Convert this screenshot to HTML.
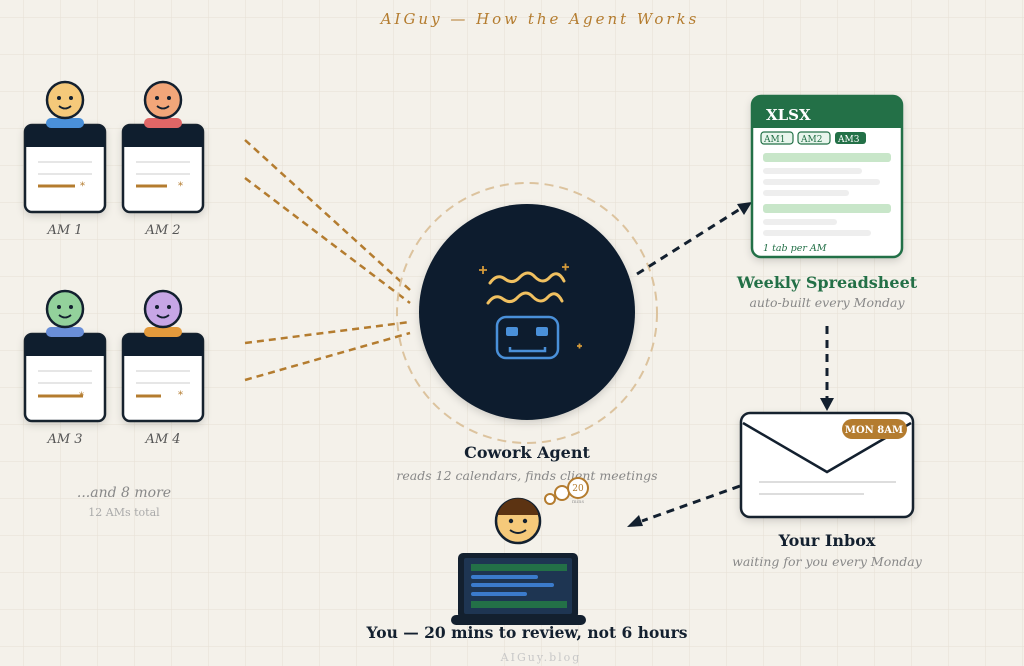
<!DOCTYPE html>
<html><head><meta charset="utf-8"><style>
html,body{margin:0;padding:0;background:#f4f1ea}
svg{display:block}
text{font-family:"DejaVu Serif","Liberation Serif",serif}
</style></head><body>
<svg width="1024" height="666" viewBox="0 0 1024 666" xmlns="http://www.w3.org/2000/svg">
<defs>
<pattern id="g" x="23" y="17" width="37" height="37" patternUnits="userSpaceOnUse">
<path d="M0 0H37M0 0V37" stroke="#e6e0d4" stroke-width="1" fill="none"/>
</pattern>
<filter id="sh" x="-20%" y="-20%" width="140%" height="140%"><feDropShadow dx="0" dy="3" stdDeviation="4" flood-color="#000" flood-opacity="0.15"/></filter>
</defs>
<rect width="1024" height="666" fill="#f4f1ea"/>
<rect width="1024" height="666" fill="url(#g)"/>

<text x="540" y="24" text-anchor="middle" font-size="15" font-style="italic" fill="#b47c2f" letter-spacing="3">AIGuy — How the Agent Works</text>

<g stroke="#b47c2f" stroke-width="2.5" stroke-dasharray="7,5" fill="none">
<line x1="245" y1="140" x2="410" y2="290"/>
<line x1="245" y1="178" x2="410" y2="303"/>
<line x1="245" y1="343" x2="410" y2="322"/>
<line x1="245" y1="380" x2="410" y2="333"/>
</g>

<g>
<g filter="url(#sh)"><rect x="25" y="125" width="80" height="87" rx="7" fill="#fff" stroke="#13202f" stroke-width="2.5"/></g>
<path d="M25 132a7 7 0 0 1 7-7h66a7 7 0 0 1 7 7v15H25z" fill="#0f1e2e"/>
<line x1="38" y1="162" x2="92" y2="162" stroke="#ddd" stroke-width="1.5"/><line x1="38" y1="174" x2="92" y2="174" stroke="#ddd" stroke-width="1.5"/>
<line x1="38" y1="186" x2="75" y2="186" stroke="#b47c2f" stroke-width="3"/><text x="80" y="189" font-size="10" fill="#b47c2f">*</text>
<rect x="46" y="118" width="38" height="10" rx="5" fill="#4a90d9"/>
<circle cx="65" cy="100" r="18" fill="#f5c97a" stroke="#13202f" stroke-width="2.5"/>
<circle cx="59" cy="98" r="2" fill="#13202f"/><circle cx="71" cy="98" r="2" fill="#13202f"/><path d="M59 106q6 5 12 0" stroke="#13202f" stroke-width="1.8" fill="none"/>
<text x="65" y="234" text-anchor="middle" font-size="13" font-style="italic" fill="#555">AM 1</text>

<g filter="url(#sh)"><rect x="123" y="125" width="80" height="87" rx="7" fill="#fff" stroke="#13202f" stroke-width="2.5"/></g>
<path d="M123 132a7 7 0 0 1 7-7h66a7 7 0 0 1 7 7v15H123z" fill="#0f1e2e"/>
<line x1="136" y1="162" x2="190" y2="162" stroke="#ddd" stroke-width="1.5"/><line x1="136" y1="174" x2="190" y2="174" stroke="#ddd" stroke-width="1.5"/>
<line x1="136" y1="186" x2="167" y2="186" stroke="#b47c2f" stroke-width="3"/><text x="178" y="189" font-size="10" fill="#b47c2f">*</text>
<rect x="144" y="118" width="38" height="10" rx="5" fill="#e06666"/>
<circle cx="163" cy="100" r="18" fill="#f2a679" stroke="#13202f" stroke-width="2.5"/>
<circle cx="157" cy="98" r="2" fill="#13202f"/><circle cx="169" cy="98" r="2" fill="#13202f"/><path d="M157 106q6 5 12 0" stroke="#13202f" stroke-width="1.8" fill="none"/>
<text x="163" y="234" text-anchor="middle" font-size="13" font-style="italic" fill="#555">AM 2</text>

<g filter="url(#sh)"><rect x="25" y="334" width="80" height="87" rx="7" fill="#fff" stroke="#13202f" stroke-width="2.5"/></g>
<path d="M25 341a7 7 0 0 1 7-7h66a7 7 0 0 1 7 7v15H25z" fill="#0f1e2e"/>
<line x1="38" y1="371" x2="92" y2="371" stroke="#ddd" stroke-width="1.5"/><line x1="38" y1="383" x2="92" y2="383" stroke="#ddd" stroke-width="1.5"/>
<line x1="38" y1="396" x2="83" y2="396" stroke="#b47c2f" stroke-width="3"/><text x="79" y="399" font-size="10" fill="#b47c2f">*</text>
<rect x="46" y="327" width="38" height="10" rx="5" fill="#6a8fd8"/>
<circle cx="65" cy="309" r="18" fill="#93d19b" stroke="#13202f" stroke-width="2.5"/>
<circle cx="59" cy="307" r="2" fill="#13202f"/><circle cx="71" cy="307" r="2" fill="#13202f"/><path d="M59 315q6 5 12 0" stroke="#13202f" stroke-width="1.8" fill="none"/>
<text x="65" y="443" text-anchor="middle" font-size="13" font-style="italic" fill="#555">AM 3</text>

<g filter="url(#sh)"><rect x="123" y="334" width="80" height="87" rx="7" fill="#fff" stroke="#13202f" stroke-width="2.5"/></g>
<path d="M123 341a7 7 0 0 1 7-7h66a7 7 0 0 1 7 7v15H123z" fill="#0f1e2e"/>
<line x1="136" y1="371" x2="190" y2="371" stroke="#ddd" stroke-width="1.5"/><line x1="136" y1="383" x2="190" y2="383" stroke="#ddd" stroke-width="1.5"/>
<line x1="136" y1="396" x2="161" y2="396" stroke="#b47c2f" stroke-width="3"/><text x="178" y="398" font-size="10" fill="#b47c2f">*</text>
<rect x="144" y="327" width="38" height="10" rx="5" fill="#e39a3c"/>
<circle cx="163" cy="309" r="18" fill="#c7a6e6" stroke="#13202f" stroke-width="2.5"/>
<circle cx="157" cy="307" r="2" fill="#13202f"/><circle cx="169" cy="307" r="2" fill="#13202f"/><path d="M157 315q6 5 12 0" stroke="#13202f" stroke-width="1.8" fill="none"/>
<text x="163" y="443" text-anchor="middle" font-size="13" font-style="italic" fill="#555">AM 4</text>
</g>
<text x="124" y="497" text-anchor="middle" font-size="14" font-style="italic" fill="#888">...and 8 more</text>
<text x="124" y="516" text-anchor="middle" font-size="11" fill="#aaa">12 AMs total</text>

<circle cx="527" cy="313" r="130" fill="none" stroke="#dcc39e" stroke-width="2" stroke-dasharray="9,6"/>
<g filter="url(#sh)"><circle cx="527" cy="312" r="108" fill="#0f1e2e"/></g>
<g stroke="#f0c060" stroke-width="3" fill="none" stroke-linecap="round">
<path d="M490 283q7-10 15-4q8 6 15-2q8-8 15 0q8 8 15 0q8-8 14 4"/>
<path d="M488 303q7-10 15-4q8 6 15-2q8-8 15 0q8 8 15 0q8-8 14 4"/>
</g>
<g stroke="#d49a3a" stroke-width="1.8"><path d="M479 270h8M483 266v8M562 267h7M565.5 263.5v7M577 346h5M579.5 343.5v5"/></g>
<rect x="497" y="317" width="61" height="41" rx="9" fill="none" stroke="#4a90d9" stroke-width="2.5"/>
<rect x="506" y="327" width="12" height="9" rx="2" fill="#4a90d9"/><rect x="536" y="327" width="12" height="9" rx="2" fill="#4a90d9"/>
<path d="M510 347v4h35v-4" stroke="#4a90d9" stroke-width="2.5" fill="none"/>
<text x="527" y="458" text-anchor="middle" font-size="16" font-weight="bold" fill="#13202f">Cowork Agent</text>
<text x="527" y="480" text-anchor="middle" font-size="12.5" font-style="italic" fill="#888">reads 12 calendars, finds client meetings</text>

<g stroke="#13202f" stroke-width="3" stroke-dasharray="8,6" fill="none">
<line x1="637" y1="274" x2="740" y2="209"/>
<line x1="827" y1="326" x2="827" y2="398"/>
<line x1="740" y1="486" x2="642" y2="521"/>
</g>
<path d="M752 202l-15 2l7 11z" fill="#13202f"/>
<path d="M820 398h14l-7 13z" fill="#13202f"/>
<path d="M627 527l12-12l4 11z" fill="#13202f"/>

<g filter="url(#sh)"><rect x="752" y="96" width="150" height="161" rx="9" fill="#fff" stroke="#237047" stroke-width="2.5"/></g>
<path d="M752 105a9 9 0 0 1 9-9h132a9 9 0 0 1 9 9v23h-150z" fill="#237047"/>
<text x="766" y="120" font-size="15" font-weight="bold" fill="#fff">XLSX</text>
<rect x="761" y="132" width="32" height="12" rx="3" fill="#e8f5ec" stroke="#237047" stroke-width="1.2"/><text x="764" y="142" font-size="9" fill="#237047">AM1</text>
<rect x="798" y="132" width="32" height="12" rx="3" fill="#e8f5ec" stroke="#237047" stroke-width="1.2"/><text x="801" y="142" font-size="9" fill="#237047">AM2</text>
<rect x="835" y="132" width="31" height="12" rx="3" fill="#237047"/><text x="838" y="142" font-size="9" fill="#fff">AM3</text>
<rect x="763" y="153" width="128" height="9" rx="3" fill="#c8e6c9"/>
<rect x="763" y="168" width="99" height="6" rx="3" fill="#eee"/>
<rect x="763" y="179" width="117" height="6" rx="3" fill="#eee"/>
<rect x="763" y="190" width="86" height="6" rx="3" fill="#eee"/>
<rect x="763" y="204" width="128" height="9" rx="3" fill="#c8e6c9"/>
<rect x="763" y="219" width="74" height="6" rx="3" fill="#eee"/>
<rect x="763" y="230" width="108" height="6" rx="3" fill="#eee"/>
<text x="763" y="251" font-size="9.5" font-style="italic" fill="#237047">1 tab per AM</text>
<text x="827" y="288" text-anchor="middle" font-size="16" font-weight="bold" fill="#237047">Weekly Spreadsheet</text>
<text x="827" y="307" text-anchor="middle" font-size="12.5" font-style="italic" fill="#888">auto-built every Monday</text>

<g filter="url(#sh)"><rect x="741" y="413" width="172" height="104" rx="9" fill="#fff" stroke="#13202f" stroke-width="2.5"/></g>
<path d="M743 423l84 49l84-49" fill="none" stroke="#13202f" stroke-width="2.5"/>
<rect x="842" y="419" width="65" height="20" rx="10" fill="#b47c2f"/>
<text x="874" y="433" text-anchor="middle" font-size="10" font-weight="bold" fill="#fff">MON 8AM</text>
<line x1="759" y1="482" x2="896" y2="482" stroke="#ddd" stroke-width="2"/>
<line x1="759" y1="494" x2="864" y2="494" stroke="#ddd" stroke-width="2"/>
<text x="827" y="546" text-anchor="middle" font-size="16" font-weight="bold" fill="#13202f">Your Inbox</text>
<text x="827" y="566" text-anchor="middle" font-size="12.5" font-style="italic" fill="#888">waiting for you every Monday</text>

<circle cx="550" cy="499" r="5" fill="#fff" stroke="#b47c2f" stroke-width="2"/>
<circle cx="562" cy="493" r="7" fill="#fff" stroke="#b47c2f" stroke-width="2"/>
<circle cx="578" cy="488" r="10" fill="#fff" stroke="#b47c2f" stroke-width="2"/>
<text x="578" y="491" text-anchor="middle" font-size="9" fill="#b47c2f">20</text>
<text x="578" y="503" text-anchor="middle" font-size="5" fill="#999">mins</text>
<circle cx="518" cy="521" r="22" fill="#f5c97a" stroke="#13202f" stroke-width="2.5"/>
<path d="M497.5 515a21 21 0 0 1 41 0z" fill="#5c3312"/>
<circle cx="511" cy="521" r="2.2" fill="#13202f"/><circle cx="525" cy="521" r="2.2" fill="#13202f"/>
<path d="M510 530q8 6 16 0" stroke="#13202f" stroke-width="2" fill="none"/>
<rect x="458" y="553" width="120" height="66" rx="5" fill="#13202f"/>
<rect x="464" y="558" width="108" height="56" rx="2" fill="#1e3552"/>
<rect x="471" y="564" width="96" height="7" fill="#237047"/>
<rect x="471" y="575" width="67" height="4" rx="2" fill="#3b7bcc"/>
<rect x="471" y="583" width="83" height="4" rx="2" fill="#3b7bcc"/>
<rect x="471" y="592" width="56" height="4" rx="2" fill="#3b7bcc"/>
<rect x="471" y="601" width="96" height="7" fill="#237047"/>
<rect x="451" y="615" width="135" height="10" rx="5" fill="#13202f"/>
<text x="527" y="638" text-anchor="middle" font-size="15.5" font-weight="bold" fill="#13202f">You — 20 mins to review, not 6 hours</text>
<text x="541" y="661" text-anchor="middle" font-size="11" fill="#c8c8c8" letter-spacing="2">AIGuy.blog</text>
</svg>
</body></html>
